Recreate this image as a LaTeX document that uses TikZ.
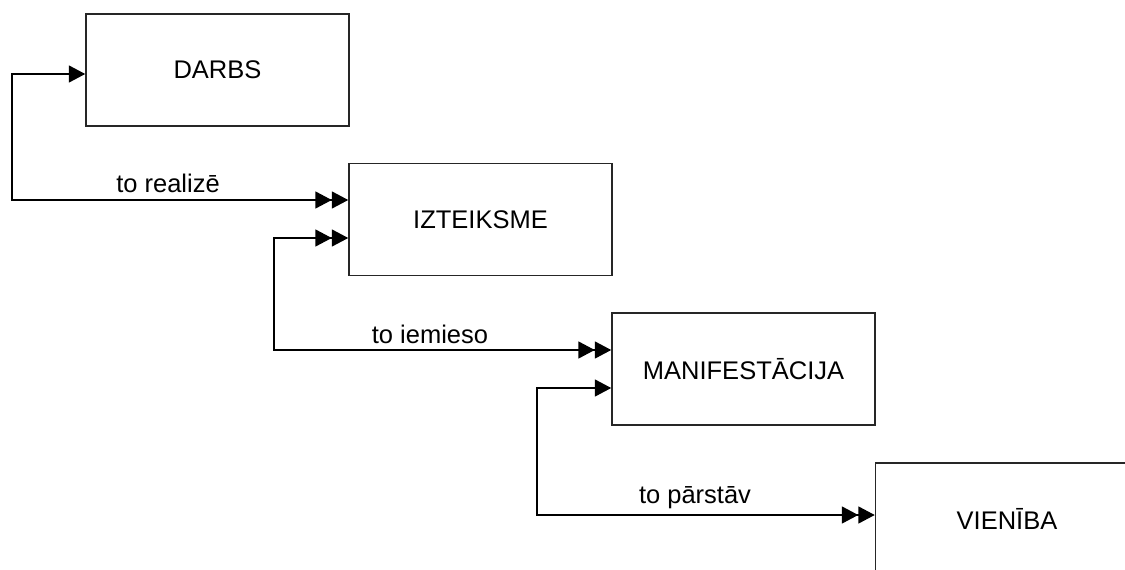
\documentclass[tikz,border=0pt]{standalone}
\usepackage{fontspec}
\setmainfont{Liberation Sans}
\usetikzlibrary{arrows.meta}
\begin{document}
\begin{tikzpicture}[x=1pt,y=-1pt,
  box/.style={draw=black!85,line width=1.5pt,minimum width=263pt,minimum height=112pt,inner sep=0pt,font=\fontsize{25.5}{30}\selectfont},
  lbl/.style={inner sep=0pt,font=\fontsize{25.5}{30}\selectfont},
  conn/.style={line width=1.8pt},
  tip/.tip={Triangle[length=16.5pt,width=17pt]},
  one/.style={conn,{tip}-{tip[]tip}},
  two/.style={conn,{tip[]tip}-{tip[]tip}}]
\useasboundingbox (0,0) rectangle (1125,570);
\clip (0,0) rectangle (1125,570);
\node[box] (darbs) at (217.5,70) {DARBS};
\node[box] (izt) at (480.5,219.5) {IZTEIKSME};
\node[box] (man) at (743.5,369) {MANIFESTĀCIJA};
\node[box] (vien) at (1007,519) {VIENĪBA};
% connector 1
\coordinate (a1) at ([yshift=-4pt]darbs.west);
\coordinate (a2) at (12,74);
\coordinate (a3) at (12,200);
\coordinate (a4) at (izt.west |- a3);
\draw[one] (a1) -- (a2) -- (a3) -- (a4);
\node[lbl] (l1) at (168,183) {to realizē};
% connector 2
\coordinate (b1) at ([yshift=-18.5pt]izt.west);
\coordinate (b2) at (274,238);
\coordinate (b3) at (274,350);
\coordinate (b4) at (man.west |- b3);
\draw[two] (b1) -- (b2) -- (b3) -- (b4);
\node[lbl] (l2) at (430,334) {to iemieso};
% connector 3
\coordinate (c1) at ([yshift=-19pt]man.west);
\coordinate (c2) at (537,388);
\coordinate (c3) at (537,515);
\coordinate (c4) at (vien.west |- c3);
\draw[one] (c1) -- (c2) -- (c3) -- (c4);
\node[lbl] (l3) at (695,498) {to pārstāv};
\end{tikzpicture}
\end{document}
